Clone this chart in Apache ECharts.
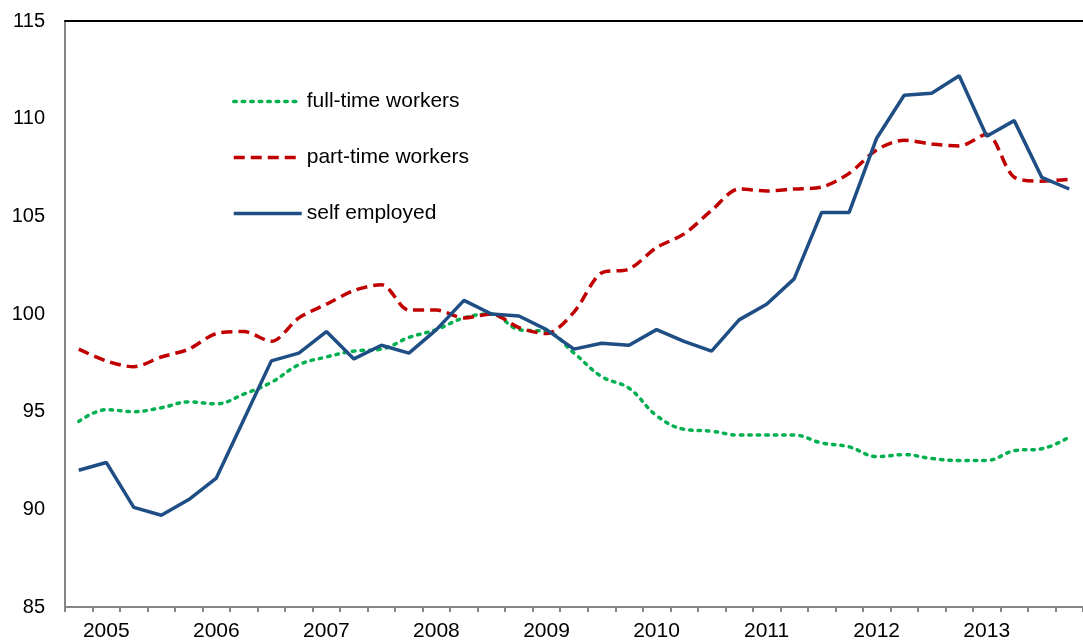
<!DOCTYPE html>
<html>
<head>
<meta charset="utf-8">
<script src="https://cdn.jsdelivr.net/npm/echarts@6/dist/echarts.min.js"></script>
<style>
html,body{margin:0;padding:0;background:#fff;}
#chart{width:1083px;height:644px;}
</style>
</head>
<body>
<div id="chart"></div>
<script>
// Quarterly categories (2004 Q4 .. 2013 Q4)
const quarters = [
  "2004Q4",
  "2005Q1","2005Q2","2005Q3","2005Q4",
  "2006Q1","2006Q2","2006Q3","2006Q4",
  "2007Q1","2007Q2","2007Q3","2007Q4",
  "2008Q1","2008Q2","2008Q3","2008Q4",
  "2009Q1","2009Q2","2009Q3","2009Q4",
  "2010Q1","2010Q2","2010Q3","2010Q4",
  "2011Q1","2011Q2","2011Q3","2011Q4",
  "2012Q1","2012Q2","2012Q3","2012Q4",
  "2013Q1","2013Q2","2013Q3","2013Q4"
];
const yTicks = [85, 90, 95, 100, 105, 110, 115];

const fullTime = [
  94.5, 95.1, 95.0, 95.2, 95.5, 95.4, 95.9, 96.5, 97.4, 97.8, 98.1,
  98.2, 98.8, 99.2, 99.8, 100.0, 99.2, 99.1, 98.0, 96.8, 96.2, 94.8, 94.1, 94.0,
  93.8, 93.8, 93.8, 93.4, 93.2, 92.7, 92.8, 92.6, 92.5, 92.5, 93.0, 93.1, 93.7
];
const partTime = [
  98.2, 97.6, 97.3, 97.8, 98.2, 99.0, 99.1, 98.6, 99.8, 100.5, 101.2,
  101.5, 100.2, 100.2, 99.8, 100.0, 99.3, 99.0, 100.1, 102.1, 102.3, 103.4, 104.1, 105.3,
  106.4, 106.3, 106.4, 106.5, 107.2, 108.4, 108.9, 108.7, 108.6, 109.2, 107.0, 106.8, 106.9
];
const selfEmployed = [
  92.0, 92.4, 90.1, 89.7, 90.5, 91.6, 94.6, 97.6, 98.0, 99.1, 97.7,
  98.4, 98.0, 99.2, 100.7, 100.0, 99.9, 99.2, 98.2, 98.5, 98.4, 99.2, 98.6, 98.1,
  99.7, 100.5, 101.8, 105.2, 105.2, 109.0, 111.2, 111.3, 112.2, 109.1, 109.9, 107.0, 106.4
];
const seriesNames = ["full-time workers", "part-time workers", "self employed"];

const colors = ['#00b050', '#c00000', '#1f4e85'];
const dashes = [[2.5, 6], [11, 6], 'solid'];
const caps = ['round', 'butt', 'butt'];

const chart = echarts.init(document.getElementById('chart'), null, {renderer: 'canvas'});
const font = '"Liberation Sans", Arial, sans-serif';

chart.setOption({
  animation: false,
  backgroundColor: '#ffffff',
  grid: {left: 65, top: 21, width: 1025, height: 586, containLabel: false},
  legend: {
    orient: 'vertical',
    left: 227,
    top: 86,
    itemWidth: 68,
    itemHeight: 16,
    itemGap: 35,
    itemStyle: {opacity: 0},
    textStyle: {fontFamily: font, fontSize: 21, color: '#000'},
    data: seriesNames.map(function (n, i) {
      return {
        name: n,
        itemStyle: {opacity: 0},
        lineStyle: {color: colors[i], width: 3.5, type: dashes[i], cap: caps[i], opacity: 1}
      };
    })
  },
  xAxis: [
    {
      type: 'category',
      data: quarters,
      boundaryGap: true,
      axisLine: {lineStyle: {color: '#868686', width: 2}},
      axisTick: {show: true, length: 5, lineStyle: {color: '#868686', width: 2}},
      axisLabel: {
        interval: 0,
        margin: 14,
        fontFamily: font, fontSize: 21, color: '#000',
        formatter: function (v, i) { return (i % 4 === 1) ? v.substring(0, 4) : ''; }
      },
      splitLine: {show: false}
    },
    {
      type: 'category',
      data: quarters,
      position: 'top',
      axisLine: {show: true, lineStyle: {color: '#000', width: 2}},
      axisTick: {show: false},
      axisLabel: {show: false}
    }
  ],
  yAxis: {
    type: 'value',
    min: yTicks[0],
    max: yTicks[yTicks.length - 1],
    interval: 5,
    axisLine: {show: true, lineStyle: {color: '#868686', width: 2}},
    axisTick: {show: false},
    splitLine: {show: false},
    axisLabel: {margin: 20, fontFamily: font, fontSize: 20, color: '#000'}
  },
  series: [
    {
      name: seriesNames[0], type: 'line', data: fullTime,
      symbol: 'none', smooth: 0.4,
      lineStyle: {color: colors[0], width: 3.5, type: dashes[0], cap: caps[0]},
      itemStyle: {color: colors[0]}
    },
    {
      name: seriesNames[1], type: 'line', data: partTime,
      symbol: 'none', smooth: 0.3,
      lineStyle: {color: colors[1], width: 3.5, type: dashes[1]},
      itemStyle: {color: colors[1]}
    },
    {
      name: seriesNames[2], type: 'line', data: selfEmployed,
      symbol: 'none', smooth: false,
      lineStyle: {color: colors[2], width: 3.5},
      itemStyle: {color: colors[2]}
    }
  ]
});
</script>
</body>
</html>
